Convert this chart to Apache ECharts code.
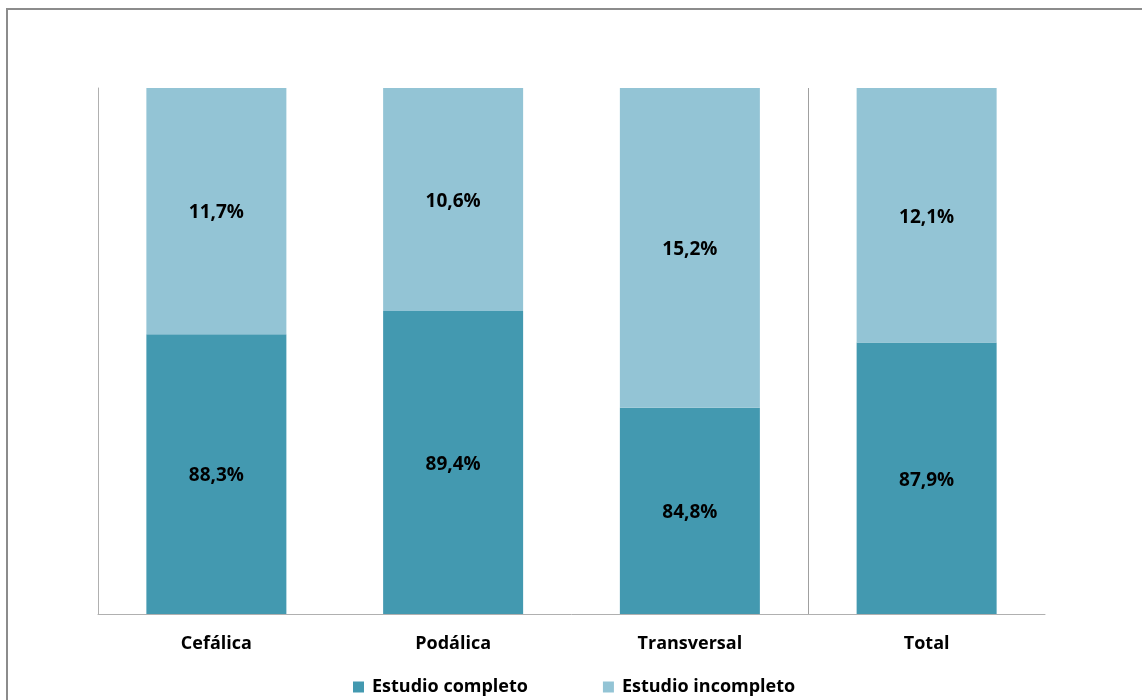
<!DOCTYPE html>
<html><head><meta charset="utf-8">
<script src="https://cdn.jsdelivr.net/npm/echarts@6/dist/echarts.min.js"></script>
<style>
html,body{margin:0;padding:0;background:#fff;overflow:hidden}
#c{width:1142px;height:700px}
#frame{position:absolute;left:6px;top:8px;width:1200px;height:800px;border:2px solid #8c8c8c;box-sizing:border-box;pointer-events:none}
</style></head>
<body>
<div id="c"></div>
<div id="frame"></div>
<script>
var categories = ['Cefálica', 'Podálica', 'Transversal', 'Total'];
var completo = [88.3, 89.4, 84.8, 87.9];
var incompleto = [11.7, 10.6, 15.2, 12.1];
var seriesNames = ['Estudio completo', 'Estudio incompleto'];

var font = '"Open Sans", "Noto Sans", sans-serif';
function fmt(p){ return p.value.toFixed(1).replace('.', ',') + '%'; }
var lbl = {show:true, position:'inside', offset:[0,2], formatter:fmt, color:'#000', fontFamily:font, fontWeight:'bold', fontSize:19};

var chart = echarts.init(document.getElementById('c'), null, {renderer:'canvas'});
chart.setOption({
  animation:false,
  grid:{left:98, right:97, top:88, bottom:86},
  legend:{
    data:seriesNames, left:348, top:673, itemWidth:11, itemHeight:11, itemGap:75,
    icon:'rect',
    textStyle:{fontFamily:font, fontWeight:'bold', fontSize:18, color:'#000', padding:[0,0,0,3]}
  },
  xAxis:{
    type:'category', data:categories,
    axisLine:{show:true, lineStyle:{color:'#b0b0b0', width:1}},
    axisTick:{show:false},
    axisLabel:{fontFamily:font, fontWeight:'bold', fontSize:18, color:'#000', margin:21},
    splitLine:{show:true, interval:0, lineStyle:{color:['rgba(0,0,0,0)','rgba(0,0,0,0)','rgba(0,0,0,0)','#a0a0a0','rgba(0,0,0,0)'], width:1}}
  },
  yAxis:{
    type:'value', min:75, max:100,
    axisLine:{show:true, lineStyle:{color:'#b0b0b0', width:1}},
    axisTick:{show:false}, axisLabel:{show:false}, splitLine:{show:false}
  },
  series:[
    {name:seriesNames[0], type:'bar', stack:'s', data:completo, barWidth:140,
     itemStyle:{color:'#4399B0'}, label:lbl},
    {name:seriesNames[1], type:'bar', stack:'s', data:incompleto, barWidth:140,
     itemStyle:{color:'#93C4D5'}, label:lbl}
  ]
});
</script>
</body></html>
